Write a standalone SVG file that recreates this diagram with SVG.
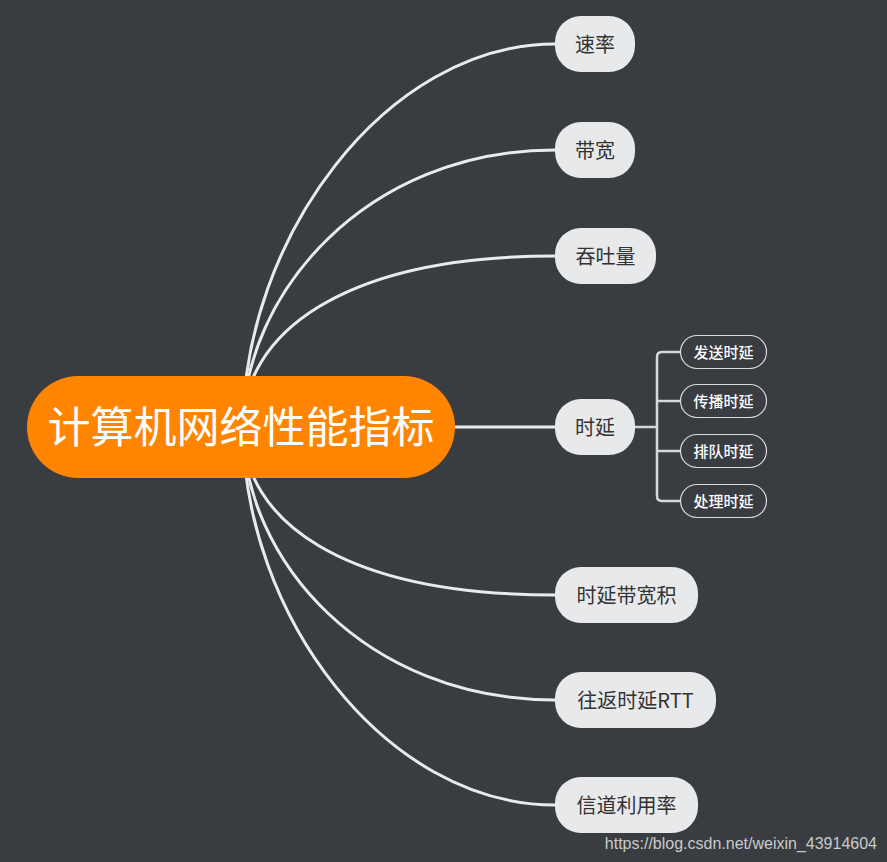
<svg xmlns="http://www.w3.org/2000/svg" width="887" height="862" viewBox="0 0 887 862">
<style>
.bg{fill:#393c41}
.conn{fill:none;stroke:#e9eaec;stroke-width:3;stroke-linecap:round}
.sub{fill:none;stroke:#d6d7d9;stroke-width:2.5;stroke-linejoin:round}
.child rect{fill:#e8e9eb}
.child text{font-family:"Noto Sans CJK SC","Microsoft YaHei",sans-serif;font-size:20px;fill:#333;text-anchor:middle}
.leaf rect{fill:#393c41;stroke:#dcdcdc;stroke-width:1.2}
.leaf text{font-family:"Noto Sans CJK SC",sans-serif;font-size:15px;fill:#fff;text-anchor:middle;font-weight:500}
</style>
<rect class="bg" x="0" y="0" width="887" height="862"/>
<g id="connectors">
  <path class="conn" d="M243 427 C243 240 385 44 555 44"/>
  <path class="conn" d="M243 427 C243 295 365 150 555 150"/>
  <path class="conn" d="M243 427 C243 335 340 256 555 256"/>
  <path class="conn" d="M455 427 L555 427"/>
  <path class="conn" d="M243 427 C243 519 340 595 555 595"/>
  <path class="conn" d="M243 427 C243 559 365 700 555 700"/>
  <path class="conn" d="M243 427 C243 614 385 805 555 805"/>
  <path class="sub" d="M635 427 L657 427 M680 352 L662 352 Q657 352 657 357 L657 496 Q657 501 662 501 L680 501 M657 401 L680 401 M657 451 L680 451"/>
</g>
<g id="root">
  <rect x="27" y="376" width="428" height="102" rx="51" fill="#ff8400"/>
  <text x="241" y="443" font-family="Noto Sans CJK SC,Microsoft YaHei,sans-serif" font-size="43" fill="#fff" text-anchor="middle">计算机网络性能指标</text>
</g>
<g id="n1" class="child"><rect x="555" y="16" width="80" height="56" rx="26"/><text x="595" y="51.5">速率</text></g>
<g id="n2" class="child"><rect x="555" y="122" width="80" height="56" rx="26"/><text x="595" y="157.5">带宽</text></g>
<g id="n3" class="child"><rect x="555" y="228" width="101" height="56" rx="26"/><text x="605.5" y="263.5">吞吐量</text></g>
<g id="n4" class="child"><rect x="555" y="399" width="80" height="56" rx="26"/><text x="595" y="434.5">时延</text></g>
<g id="n5" class="child"><rect x="555" y="567" width="143" height="56" rx="26"/><text x="626.5" y="602.5">时延带宽积</text></g>
<g id="n6" class="child"><rect x="555" y="672" width="161" height="56" rx="26"/><text x="635.5" y="707.5">往返时延RTT</text></g>
<g id="n7" class="child"><rect x="555" y="777" width="143" height="56" rx="26"/><text x="626.5" y="812.5">信道利用率</text></g>
<g id="s1" class="leaf"><rect x="680.5" y="335.5" width="86" height="33" rx="16.5"/><text x="723.5" y="357.5">发送时延</text></g>
<g id="s2" class="leaf"><rect x="680.5" y="384.5" width="86" height="33" rx="16.5"/><text x="723.5" y="406.5">传播时延</text></g>
<g id="s3" class="leaf"><rect x="680.5" y="434.5" width="86" height="33" rx="16.5"/><text x="723.5" y="456.5">排队时延</text></g>
<g id="s4" class="leaf"><rect x="680.5" y="484.5" width="86" height="33" rx="16.5"/><text x="723.5" y="506.5">处理时延</text></g>
<text x="877" y="849" font-family="Liberation Sans,Arial,sans-serif" font-size="16" fill="#c9cacc" text-anchor="end">https://blog.csdn.net/weixin_43914604</text>
</svg>
